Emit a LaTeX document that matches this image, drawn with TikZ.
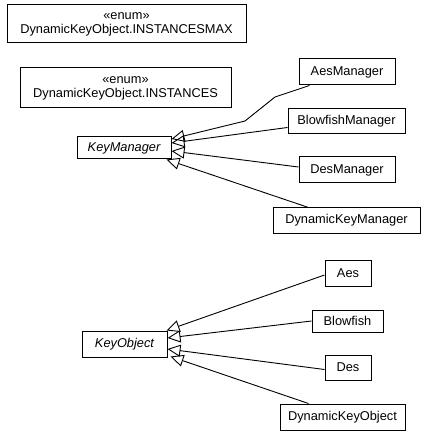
\documentclass[tikz,border=0pt]{standalone}
\usepackage{fontspec}
\setmainfont{Liberation Sans}
\usetikzlibrary{arrows.meta}
\begin{document}
\begin{tikzpicture}[x=1pt,y=-1pt,
  box/.style={draw=black,line width=1pt,rectangle,inner sep=0pt,align=center,
    font=\fontsize{12.8}{14}\selectfont},
  gen/.style={draw=black,line width=0.9pt,-{Triangle[open,length=13pt,width=12pt,line width=0.9pt]}}]
\useasboundingbox (0,0) rectangle (427,435);
% enums
\node[box,minimum width=239pt,minimum height=38pt] (imax) at (126.5,24) {«enum»\\DynamicKeyObject.INSTANCESMAX};
\node[box,minimum width=211pt,minimum height=40pt] (inst) at (125.5,88) {«enum»\\DynamicKeyObject.INSTANCES};
% managers
\node[box,minimum width=94pt,minimum height=22pt] (km) at (124,148) {\itshape KeyManager};
\node[box,minimum width=96pt,minimum height=26pt] (aesm) at (347,72) {AesManager};
\node[box,minimum width=117pt,minimum height=25pt] (bfm) at (346.5,121.5) {BlowfishManager};
\node[box,minimum width=96pt,minimum height=26pt] (desm) at (347,170) {DesManager};
\node[box,minimum width=147pt,minimum height=25pt] (dkm) at (346.5,220.5) {DynamicKeyManager};
% objects
\node[box,minimum width=85pt,minimum height=26pt] (ko) at (124.5,344) {\itshape KeyObject};
\node[box,minimum width=46pt,minimum height=26pt] (aes) at (348,273) {Aes};
\node[box,minimum width=71pt,minimum height=22pt] (bf) at (347.5,321) {Blowfish};
\node[box,minimum width=46pt,minimum height=25pt] (des) at (348,367.5) {Des};
\node[box,minimum width=125pt,minimum height=26pt] (dko) at (342.5,417) {DynamicKeyObject};
% generalizations (managers)
\coordinate (a1) at (275,97);
\coordinate (a2) at (245,121);
\draw[gen] ([xshift=11pt]aesm.south west) -- (a1) -- (a2) -- ([yshift=9pt]km.east);
\draw[gen] ([yshift=-6pt]bfm.west) -- ([yshift=5pt]km.east);
\draw[gen] ([yshift=3pt]desm.west) -- ([yshift=-3pt]km.east);
\draw[gen] ([xshift=-38pt]dkm.north) -- ([xshift=-5pt]km.south east);
% generalizations (objects)
\draw[gen] ([yshift=-2pt]aes.west) -- ([xshift=-1pt]ko.north east);
\draw[gen] (bf.west) -- ([yshift=6pt]ko.east);
\draw[gen] ([yshift=-2pt]des.west) -- ([yshift=-5pt]ko.east);
\draw[gen] ([xshift=-34pt]dko.north) -- ([xshift=3pt,yshift=1pt]ko.south east);
\end{tikzpicture}
\end{document}
